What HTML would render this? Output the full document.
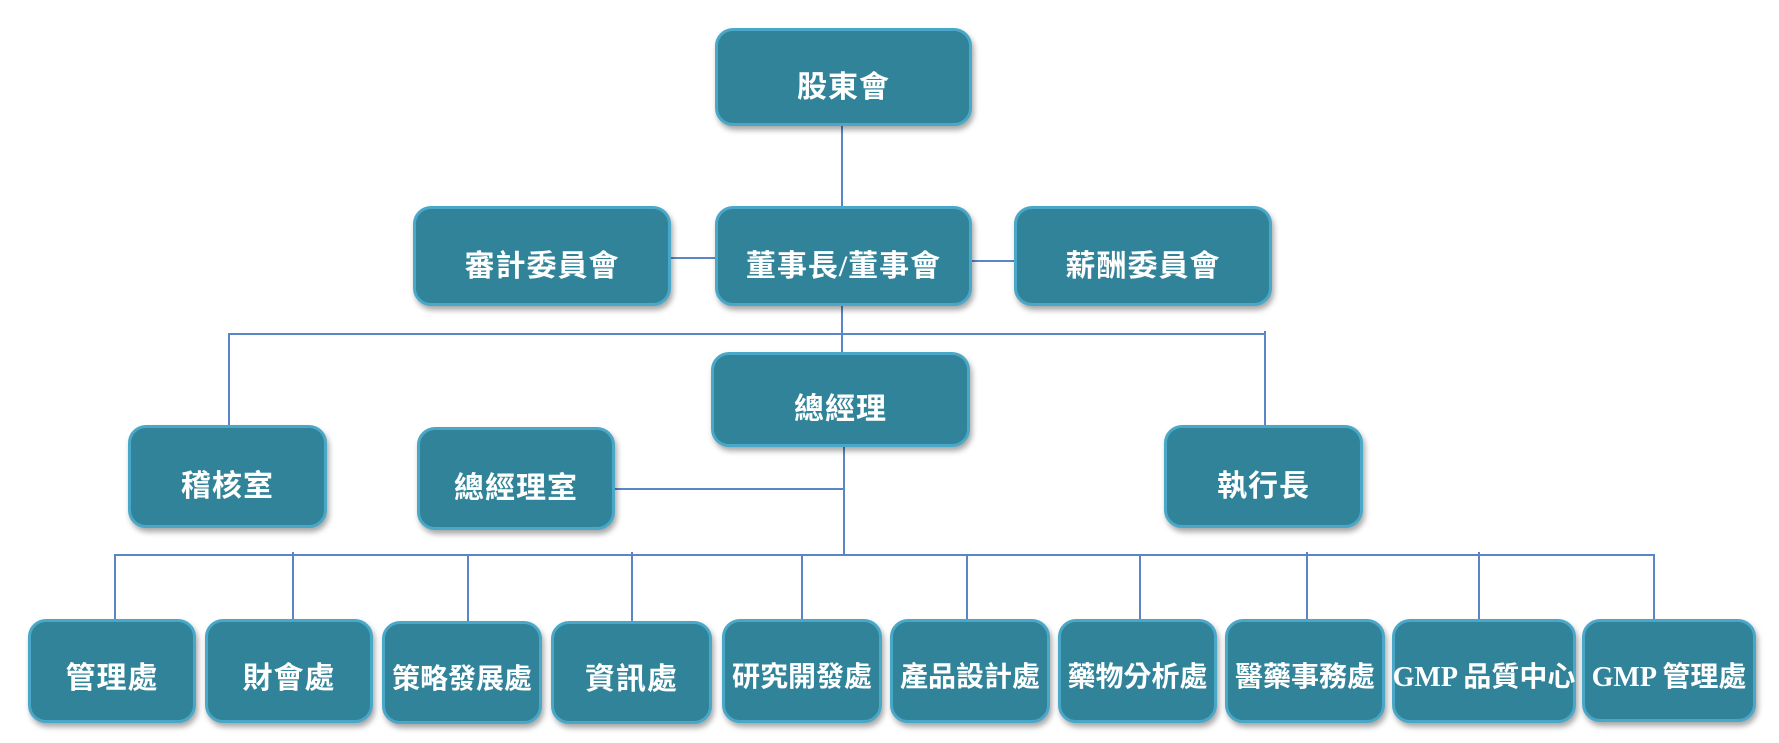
<!DOCTYPE html>
<html>
<head>
<meta charset="utf-8">
<style>
  html,body{margin:0;padding:0;background:#fff;}
  body{width:1779px;height:743px;position:relative;overflow:hidden;}
  .b{position:absolute;box-sizing:border-box;background:#308399;border:3px solid #49a7c7;border-radius:18px;
     box-shadow:2px 4px 6px rgba(0,0,0,0.35);display:flex;align-items:center;justify-content:center;
     color:#fff;font-family:"Liberation Serif","Noto Sans CJK TC",sans-serif;font-weight:bold;font-size:30px;
     letter-spacing:1px;white-space:nowrap;padding-top:13px;}
  .s{font-size:28px;letter-spacing:0;padding-top:8px;}
  .t{font-size:30px;padding-top:7px;}
  .l{position:absolute;background:#5a86c8;}
  .h{height:2px;}
  .v{width:2px;}
</style>
</head>
<body>
<!-- connectors -->
<div class="l v" style="left:841px;top:126px;height:80px;"></div>
<div class="l h" style="left:671px;top:257px;width:44px;"></div>
<div class="l h" style="left:972px;top:260px;width:42px;"></div>
<div class="l v" style="left:841px;top:306px;height:46px;"></div>
<div class="l h" style="left:228px;top:333px;width:1038px;"></div>
<div class="l v" style="left:228px;top:333px;height:92px;"></div>
<div class="l v" style="left:1264px;top:331px;height:94px;"></div>
<div class="l v" style="left:843px;top:447px;height:109px;"></div>
<div class="l h" style="left:615px;top:488px;width:229px;"></div>
<div class="l h" style="left:114px;top:554px;width:1541px;"></div>
<div class="l v" style="left:114px;top:554px;height:66px;"></div>
<div class="l v" style="left:292px;top:552px;height:68px;"></div>
<div class="l v" style="left:467px;top:554px;height:67px;"></div>
<div class="l v" style="left:631px;top:552px;height:69px;"></div>
<div class="l v" style="left:801px;top:554px;height:66px;"></div>
<div class="l v" style="left:966px;top:554px;height:66px;"></div>
<div class="l v" style="left:1139px;top:554px;height:66px;"></div>
<div class="l v" style="left:1306px;top:552px;height:68px;"></div>
<div class="l v" style="left:1478px;top:552px;height:68px;"></div>
<div class="l v" style="left:1653px;top:554px;height:66px;"></div>

<!-- top boxes -->
<div class="b" style="left:715px;top:28px;width:257px;height:98px;">股東會</div>
<div class="b" style="left:715px;top:206px;width:257px;height:100px;">董事長/董事會</div>
<div class="b" style="left:413px;top:206px;width:258px;height:100px;">審計委員會</div>
<div class="b" style="left:1014px;top:206px;width:258px;height:100px;">薪酬委員會</div>
<div class="b" style="left:711px;top:352px;width:259px;height:95px;">總經理</div>
<div class="b" style="left:128px;top:425px;width:199px;height:103px;">稽核室</div>
<div class="b" style="left:417px;top:427px;width:198px;height:103px;">總經理室</div>
<div class="b" style="left:1164px;top:425px;width:199px;height:103px;">執行長</div>

<!-- bottom boxes -->
<div class="b t" style="left:28px;top:619px;width:168px;height:104px;">管理處</div>
<div class="b t" style="left:205px;top:619px;width:168px;height:104px;">財會處</div>
<div class="b s" style="left:382px;top:621px;width:160px;height:103px;">策略發展處</div>
<div class="b t" style="left:551px;top:621px;width:161px;height:103px;">資訊處</div>
<div class="b s" style="left:722px;top:619px;width:160px;height:104px;">研究開發處</div>
<div class="b s" style="left:890px;top:619px;width:160px;height:104px;">產品設計處</div>
<div class="b s" style="left:1058px;top:619px;width:159px;height:104px;">藥物分析處</div>
<div class="b s" style="left:1225px;top:619px;width:160px;height:104px;">醫藥事務處</div>
<div class="b s" style="left:1392px;top:619px;width:184px;height:104px;">GMP 品質中心</div>
<div class="b s" style="left:1582px;top:619px;width:174px;height:103px;">GMP 管理處</div>
</body>
</html>
